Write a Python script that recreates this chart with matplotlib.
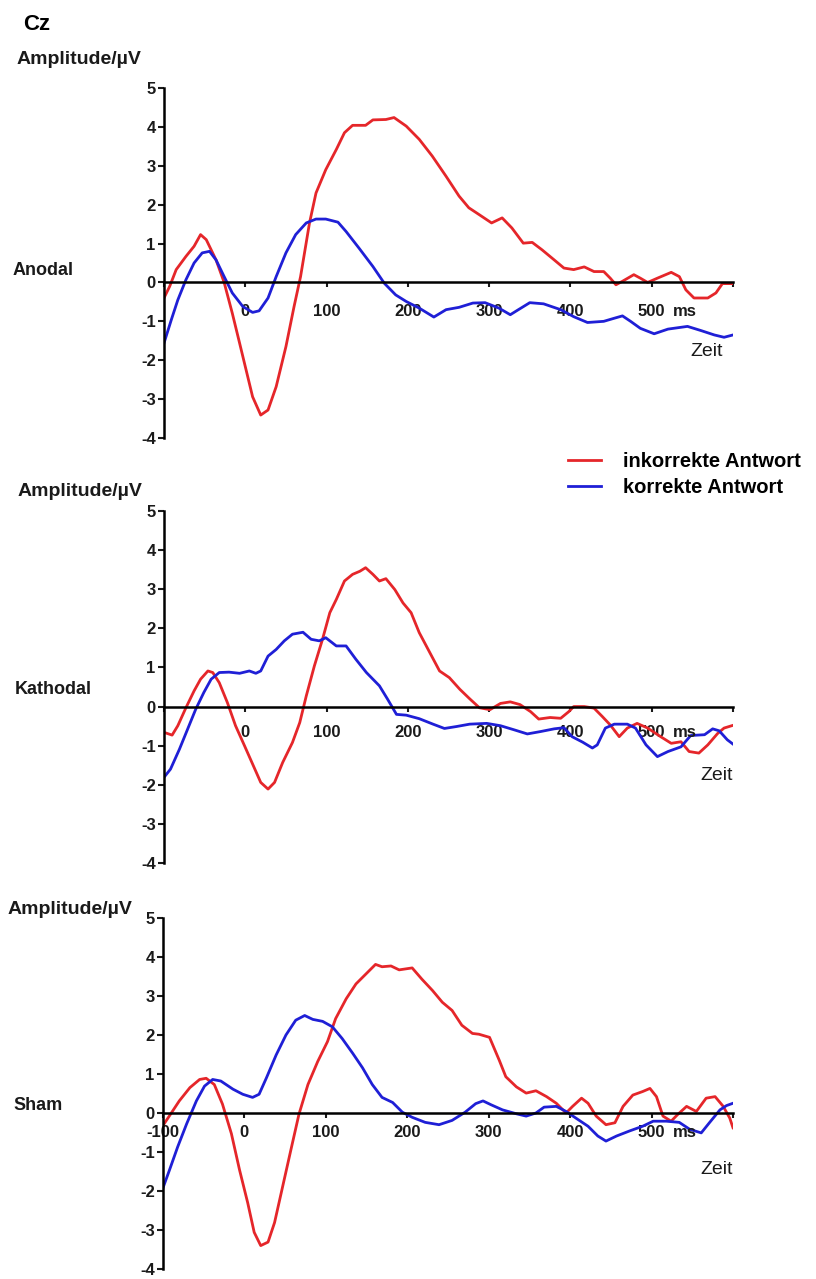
import matplotlib.pyplot as plt

plt.rcParams['font.family'] = ['Liberation Sans', 'DejaVu Sans']
plt.rcParams['axes.unicode_minus'] = False

# ERP at Cz, amplitude in microvolt over time in ms
anodal_t_inc = [-100, -93, -85, -73, -63, -55, -48, -36, -26, -16, -7, 1, 9, 19, 28, 38, 50, 60, 68, 79,
                87, 99, 112, 122, 132, 148, 157, 173, 183, 198, 214, 230, 247, 263, 275, 288, 303, 316, 328, 342,
                353, 365, 380, 392, 404, 417, 429, 441, 449, 456, 464, 478, 486, 495, 507, 524, 534, 542, 552, 569,
                579, 587, 600]
anodal_inc = [-0.40, -0.10, 0.33, 0.67, 0.93, 1.23, 1.10, 0.58, 0.00, -0.79, -1.56, -2.25, -2.94, -3.41, -3.28, -2.68, -1.65, -0.62, 0.15, 1.53,
              2.30, 2.90, 3.42, 3.85, 4.04, 4.04, 4.18, 4.19, 4.24, 4.02, 3.68, 3.25, 2.73, 2.22, 1.92, 1.74, 1.53, 1.66, 1.40, 1.01,
              1.03, 0.84, 0.58, 0.37, 0.33, 0.40, 0.28, 0.28, 0.11, -0.06, 0.03, 0.20, 0.11, 0.00, 0.11, 0.26, 0.15, -0.19, -0.40, -0.40,
              -0.27, -0.03, -0.03]
anodal_t_cor = [-100, -91, -83, -73, -63, -53, -44, -36, -26, -16, -3, 9, 17, 28, 38, 50, 62, 75, 87, 99,
                114, 124, 140, 157, 171, 185, 198, 214, 232, 247, 263, 280, 295, 312, 326, 336, 350, 367, 388, 404,
                421, 441, 454, 464, 474, 486, 503, 520, 544, 561, 577, 589, 600]
anodal_cor = [-1.56, -0.96, -0.45, 0.07, 0.50, 0.76, 0.80, 0.58, 0.15, -0.27, -0.62, -0.77, -0.73, -0.40, 0.15, 0.76, 1.23, 1.53, 1.63, 1.63,
              1.55, 1.31, 0.88, 0.41, -0.02, -0.32, -0.49, -0.66, -0.89, -0.70, -0.64, -0.53, -0.52, -0.66, -0.83, -0.70, -0.52, -0.55, -0.70, -0.88,
              -1.03, -1.00, -0.92, -0.86, -1.00, -1.18, -1.32, -1.20, -1.13, -1.24, -1.35, -1.41, -1.35]

kathodal_t_inc = [-100, -90, -83, -73, -63, -55, -46, -40, -32, -22, -12, -1, 9, 19, 28, 36, 46, 58, 67, 75,
                  85, 95, 104, 112, 122, 132, 141, 148, 157, 165, 173, 184, 194, 204, 214, 227, 239, 251, 264, 276,
                  288, 301, 314, 326, 338, 351, 361, 375, 388, 398, 404, 417, 429, 439, 449, 460, 470, 482, 495, 511,
                  524, 536, 546, 558, 569, 581, 589, 600]
kathodal_inc = [-0.66, -0.73, -0.49, -0.03, 0.40, 0.70, 0.91, 0.87, 0.61, 0.10, -0.49, -1.00, -1.47, -1.94, -2.11, -1.94, -1.43, -0.92, -0.41, 0.27,
                1.04, 1.72, 2.40, 2.74, 3.21, 3.38, 3.46, 3.55, 3.38, 3.21, 3.27, 2.99, 2.65, 2.40, 1.89, 1.38, 0.91, 0.74, 0.44, 0.20,
                -0.03, -0.08, 0.08, 0.12, 0.05, -0.13, -0.32, -0.28, -0.30, -0.13, 0.00, 0.00, -0.04, -0.25, -0.47, -0.77, -0.55, -0.43, -0.55, -0.77,
                -0.94, -0.90, -1.15, -1.19, -0.98, -0.69, -0.55, -0.48]
kathodal_t_cor = [-100, -92, -81, -71, -61, -51, -42, -32, -20, -7, 5, 13, 19, 28, 38, 48, 58, 71, 81, 91,
                  99, 112, 124, 136, 149, 165, 175, 186, 198, 214, 231, 245, 260, 276, 297, 314, 330, 347, 363, 380,
                  392, 402, 415, 427, 433, 443, 454, 470, 480, 493, 507, 520, 536, 548, 565, 575, 583, 593, 600]
kathodal_cor = [-1.81, -1.60, -1.09, -0.58, -0.07, 0.36, 0.70, 0.87, 0.88, 0.85, 0.91, 0.85, 0.91, 1.29, 1.46, 1.68, 1.85, 1.90, 1.72, 1.68,
                1.76, 1.55, 1.55, 1.21, 0.87, 0.53, 0.19, -0.20, -0.22, -0.31, -0.45, -0.56, -0.51, -0.45, -0.43, -0.49, -0.59, -0.70, -0.64, -0.57,
                -0.54, -0.77, -0.91, -1.06, -0.98, -0.55, -0.45, -0.45, -0.55, -0.98, -1.28, -1.15, -1.03, -0.74, -0.72, -0.57, -0.62, -0.85, -0.96]

sham_t_inc = [-100, -92, -80, -67, -55, -47, -37, -27, -16, -6, 4, 12, 20, 29, 37, 47, 57, 67, 78, 90,
              102, 112, 125, 137, 149, 161, 169, 180, 190, 206, 218, 231, 243, 255, 267, 280, 288, 301, 313, 321,
              334, 346, 358, 371, 383, 395, 403, 414, 422, 432, 444, 455, 465, 477, 489, 498, 506, 514, 524, 532,
              543, 555, 567, 578, 588, 596, 600]
sham_inc = [-0.32, -0.07, 0.31, 0.65, 0.86, 0.89, 0.73, 0.23, -0.53, -1.46, -2.30, -3.06, -3.40, -3.31, -2.81, -1.88, -0.95, -0.03, 0.73, 1.32,
            1.83, 2.42, 2.93, 3.31, 3.56, 3.81, 3.75, 3.77, 3.67, 3.72, 3.43, 3.14, 2.84, 2.63, 2.25, 2.04, 2.02, 1.94, 1.35, 0.93,
            0.67, 0.51, 0.57, 0.42, 0.25, 0.00, 0.17, 0.38, 0.25, -0.08, -0.30, -0.25, 0.17, 0.46, 0.55, 0.63, 0.42, -0.08, -0.21, -0.04,
            0.17, 0.04, 0.38, 0.42, 0.17, -0.13, -0.38]
sham_t_cor = [-100, -92, -82, -71, -59, -49, -39, -29, -14, -2, 10, 18, 27, 39, 51, 63, 74, 84, 96, 108,
              120, 133, 145, 157, 169, 182, 194, 206, 222, 239, 255, 271, 284, 293, 303, 317, 334, 346, 358, 368,
              383, 395, 407, 422, 434, 444, 457, 473, 489, 502, 518, 534, 547, 561, 571, 584, 592, 600]
sham_cor = [-1.92, -1.46, -0.87, -0.28, 0.31, 0.69, 0.86, 0.82, 0.61, 0.48, 0.40, 0.48, 0.90, 1.49, 2.00, 2.38, 2.50, 2.40, 2.35, 2.21,
            1.91, 1.53, 1.16, 0.73, 0.40, 0.27, 0.02, -0.11, -0.24, -0.30, -0.19, 0.02, 0.24, 0.31, 0.21, 0.08, -0.02, -0.08, 0.00, 0.15,
            0.17, 0.04, -0.13, -0.34, -0.59, -0.72, -0.59, -0.46, -0.34, -0.21, -0.21, -0.24, -0.42, -0.51, -0.25, 0.08, 0.19, 0.25]

conditions = ['Anodal', 'Kathodal', 'Sham']
series = [(anodal_t_inc, anodal_inc, anodal_t_cor, anodal_cor),
          (kathodal_t_inc, kathodal_inc, kathodal_t_cor, kathodal_cor),
          (sham_t_inc, sham_inc, sham_t_cor, sham_cor)]
legend_labels = ['inkorrekte Antwort', 'korrekte Antwort']
yticks = [-4, -3, -2, -1, 0, 1, 2, 3, 4, 5]
xticks = [-100, 0, 100, 200, 300, 400, 500, 600]
xticklabels = [['', '0', '100', '200', '300', '400', '500', ''],
               ['', '0', '100', '200', '300', '400', '500', ''],
               ['-100', '0', '100', '200', '300', '400', '500', '']]

red = '#e5262a'
blue = '#1f1fd6'
W, H = 816, 1279

# panel boxes in pixels: left, right, top (5 uV), bottom (-4 uV)
boxes = [(164, 733, 88, 438), (164, 733, 511, 863), (163, 733, 918, 1269)]
label_pads = [12, 10, 5]
amp_pos = [(17, 60), (18, 492), (8, 909)]
cond_pos = [(13, 270), (15, 690), (13, 1105)]
zeit_pos = [(723, 351), (733, 776), (733, 1170)]

fig = plt.figure(figsize=(W / 100, H / 100), dpi=100)
fig.text(23 / W, 1 - 24 / H, 'Cz', fontsize=16, fontweight='bold', va='center', ha='left')

axes = []
for i, (l, r, t, b) in enumerate(boxes):
    ax = fig.add_axes([l / W, 1 - b / H, (r - l) / W, (b - t) / H])
    t_inc, inc, t_cor, cor = series[i]
    ax.plot(t_inc, inc, color=red, lw=2, label=legend_labels[0])
    ax.plot(t_cor, cor, color=blue, lw=2, label=legend_labels[1])

    ax.set_xlim(-100, 600)
    ax.set_ylim(-4, 5)
    ax.spines['top'].set_visible(False)
    ax.spines['right'].set_visible(False)
    ax.spines['bottom'].set_position(('data', 0))
    ax.spines['left'].set_linewidth(1.8)
    ax.spines['bottom'].set_linewidth(1.8)
    ax.set_yticks(yticks)
    ax.set_yticklabels([str(v) for v in yticks])
    ax.set_xticks(xticks)
    ax.set_xticklabels(xticklabels[i])
    ax.tick_params(axis='y', direction='out', length=4, width=1.5, pad=2, labelsize=12, colors='#1a1a1a')
    ax.tick_params(axis='x', direction='out', length=3.5, width=1.5, pad=label_pads[i], labelsize=12, colors='#1a1a1a')
    for lbl in ax.get_xticklabels() + ax.get_yticklabels():
        lbl.set_fontweight('bold')
    ax.patch.set_alpha(0)

    ax.annotate('ms', xy=(526, 0), xytext=(0, -(label_pads[i] + 3.5) * 1.389), textcoords='offset pixels',
                ha='left', va='top', fontsize=12, fontweight='bold', color='#1a1a1a')

    fig.text(amp_pos[i][0] / W, 1 - amp_pos[i][1] / H, 'Amplitude/µV', fontsize=14, fontweight='bold',
             va='center', ha='left', color='#1a1a1a')
    fig.text(cond_pos[i][0] / W, 1 - cond_pos[i][1] / H, conditions[i], fontsize=13, fontweight='bold',
             va='center', ha='left', color='#1a1a1a')
    fig.text(zeit_pos[i][0] / W, 1 - zeit_pos[i][1] / H, 'Zeit', fontsize=14,
             va='center', ha='right', color='#1a1a1a')
    axes.append(ax)

handles, labels = axes[0].get_legend_handles_labels()
fig.legend(handles, labels, loc='upper left', bbox_to_anchor=(560 / W, 1 - 444 / H), frameon=False,
           handlelength=1.65, handletextpad=1.1, labelspacing=0.35, borderaxespad=0,
           prop={'size': 14.5, 'weight': 'bold'})

plt.savefig('out.png', dpi=100)
